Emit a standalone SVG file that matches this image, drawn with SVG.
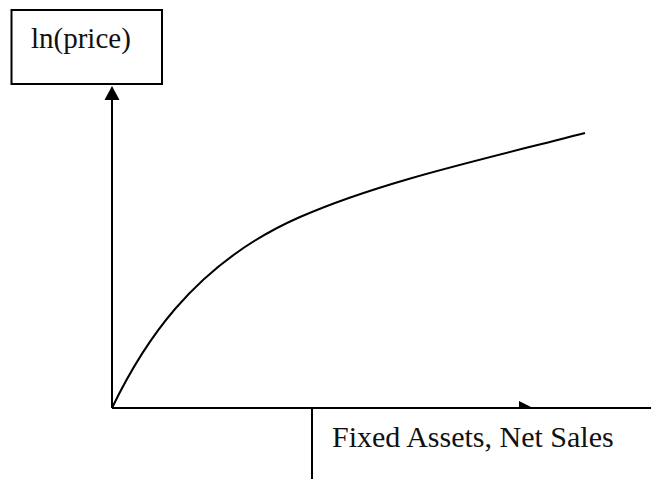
<svg xmlns="http://www.w3.org/2000/svg" width="651" height="479" viewBox="0 0 651 479">
<style>
.ln{stroke:#000;stroke-width:2;fill:none}
.lbl{font-family:"Liberation Serif","Times New Roman",serif;font-size:29px;fill:#111}
</style>
<rect width="651" height="479" fill="#fff"/>
<g id="connectors">
<path class="ln" d="M112,408 L112,98"/>
<polygon points="112,86 104.5,100 119.5,100" fill="#000"/>
<path class="ln" d="M112,408 L651,408"/>
<polygon points="519,401 533,408 519,408" fill="#000"/>
<path class="ln" d="M112,408 C140,350 190,265 300,217 C380,182 480,160 585,133" stroke-width="2.2"/>
</g>
<g id="y-label">
<rect x="11.5" y="10" width="150.5" height="74" fill="#fff" stroke="#000" stroke-width="2"/>
<text class="lbl" x="31" y="48">ln(price)</text>
</g>
<g id="x-label">
<path class="ln" d="M312,409 L312,479" stroke-width="1.5"/>
<text class="lbl" x="332" y="447" style="font-size:30px">Fixed Assets, Net Sales</text>
</g>
</svg>
